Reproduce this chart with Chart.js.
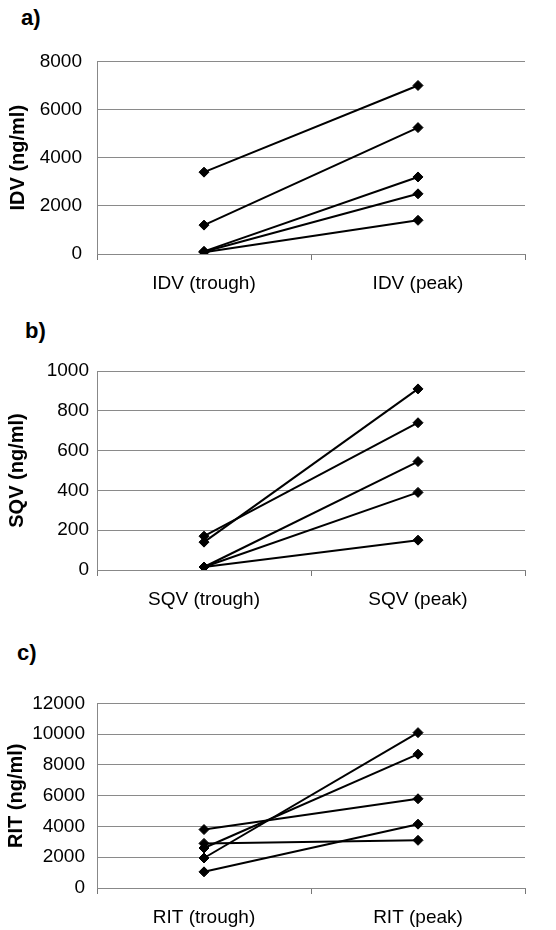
<!DOCTYPE html>
<html>
<head>
<meta charset="utf-8">
<script src="https://cdn.jsdelivr.net/npm/chart.js@4.4.1/dist/chart.umd.min.js"></script>
<style>
  body { margin: 0; background: #fff; width: 556px; height: 930px; overflow: hidden; position: relative; }
  canvas { position: absolute; left: 0; }
  .painel { position: absolute; font: bold 22px 'Liberation Sans', Arial, sans-serif; color: #000; }
</style>
</head>
<body>
<div class="painel" style="left:21px; top:5px;">a)</div>
<canvas id="graficoIDV" width="556" height="265" style="top:35px;"></canvas>
<div class="painel" style="left:25px; top:318px;">b)</div>
<canvas id="graficoSQV" width="556" height="265" style="top:351px;"></canvas>
<div class="painel" style="left:17px; top:640px;">c)</div>
<canvas id="graficoRIT" width="556" height="250" style="top:680px;"></canvas>

<script>
// concentrações (ng/ml) por paciente, vale e pico
var labelsIDV = ['IDV (trough)', 'IDV (peak)'];
var idvTrough = [3400, 1200, 110, 90, 70];
var idvPeak   = [7000, 5250, 3200, 2500, 1400];

var labelsSQV = ['SQV (trough)', 'SQV (peak)'];
var sqvTrough = [170, 140, 15, 15, 15];
var sqvPeak   = [740, 910, 545, 390, 150];

var labelsRIT = ['RIT (trough)', 'RIT (peak)'];
var ritTrough = [3800, 2900, 2600, 1950, 1050];
var ritPeak   = [5800, 3100, 8700, 10100, 4150];

Chart.defaults.font.family = "'Liberation Sans', Arial, sans-serif";
Chart.defaults.color = '#000';

// um gráfico de linhas ligando vale -> pico para cada paciente
function grafico(id, labels, trough, peak, yMax, yStep, yTitle, tickPad, titlePad, xHeight){
  var datasets = [];
  for(var i in trough){
    datasets.push({
      data: [trough[i], peak[i]],
      borderColor: '#000',
      borderWidth: 2,
      pointStyle: 'rectRot',
      pointRadius: 5,
      pointBorderWidth: 1,
      pointBackgroundColor: '#000',
      pointBorderColor: '#000',
      tension: 0
    });
  }

  return new Chart(document.getElementById(id), {
    type: 'line',
    data: {
      labels: labels,
      datasets: datasets
    },
    options: {
      responsive: false,
      animation: false,
      layout: {
        padding: { top: 20, right: 31, bottom: 0, left: 0 }
      },
      scales: {
        x: {
          offset: true,
          grid: {
            offset: true,
            drawOnChartArea: false,
            drawTicks: true,
            tickLength: 6,
            color: '#777'
          },
          border: { color: '#888', width: 1 },
          ticks: {
            font: { size: 19 },
            padding: 12,
            maxRotation: 0
          },
          afterFit: function(scale){ scale.height = xHeight; }
        },
        y: {
          min: 0,
          max: yMax,
          grid: {
            color: '#8a8a8a',
            drawTicks: false
          },
          border: { color: '#888', width: 1 },
          ticks: {
            stepSize: yStep,
            font: { size: 19 },
            padding: tickPad,
            // sem separador de milhar
            callback: function(valor){ return String(valor); }
          },
          title: {
            display: true,
            text: yTitle,
            font: { size: 20, weight: 'bold' },
            padding: { top: titlePad, bottom: 0 }
          },
          afterFit: function(scale){ scale.width = 97; }
        }
      },
      plugins: {
        legend: { display: false },
        tooltip: { enabled: false }
      }
    }
  });
}

grafico('graficoIDV', labelsIDV, idvTrough, idvPeak, 8000, 2000, 'IDV (ng/ml)', 15, 6, 46);
grafico('graficoSQV', labelsSQV, sqvTrough, sqvPeak, 1000, 200, 'SQV (ng/ml)', 8, 5, 46);
grafico('graficoRIT', labelsRIT, ritTrough, ritPeak, 12000, 2000, 'RIT (ng/ml)', 12, 4, 42);
</script>
</body>
</html>
